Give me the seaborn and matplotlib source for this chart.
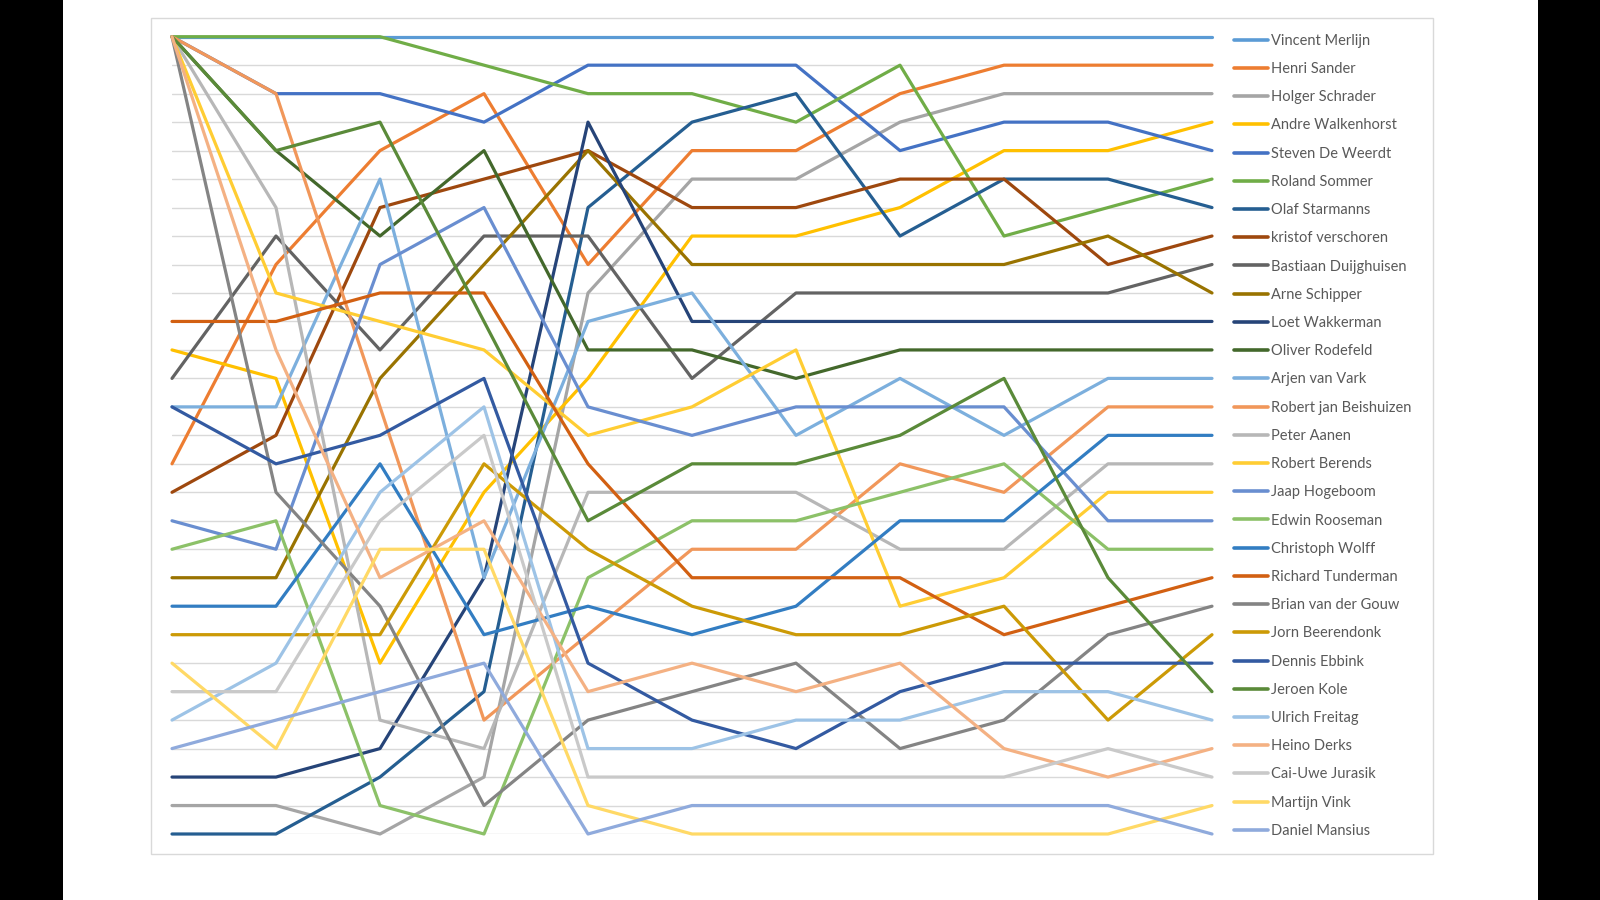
import numpy as np
import pandas as pd
import matplotlib
matplotlib.use('Agg')
import matplotlib.pyplot as plt
import seaborn as sns
from matplotlib.lines import Line2D
from matplotlib.patches import Rectangle

# --- data: rank per round for each player ---
rounds = [1, 2, 3, 4, 5, 6, 7, 8, 9, 10, 11]

players = ['Vincent Merlijn', 'Henri Sander', 'Holger Schrader', 'Andre Walkenhorst',
           'Steven De Weerdt', 'Roland Sommer', 'Olaf Starmanns', 'kristof verschoren',
           'Bastiaan Duijghuisen', 'Arne Schipper', 'Loet Wakkerman', 'Oliver Rodefeld',
           'Arjen van Vark', 'Robert jan Beishuizen', 'Peter Aanen', 'Robert Berends',
           'Jaap Hogeboom', 'Edwin Rooseman', 'Christoph Wolff', 'Richard Tunderman',
           'Brian van der Gouw', 'Jorn Beerendonk', 'Dennis Ebbink', 'Jeroen Kole',
           'Ulrich Freitag', 'Heino Derks', 'Cai-Uwe Jurasik', 'Martijn Vink', 'Daniel Mansius']

vincent_merlijn = [1, 1, 1, 1, 1, 1, 1, 1, 1, 1, 1]
henri_sander = [16, 9, 5, 3, 9, 5, 5, 3, 2, 2, 2]
holger_schrader = [28, 28, 29, 27, 10, 6, 6, 4, 3, 3, 3]
andre_walkenhorst = [12, 13, 23, 17, 13, 8, 8, 7, 5, 5, 4]
steven_de_weerdt = [1, 3, 3, 4, 2, 2, 2, 5, 4, 4, 5]
roland_sommer = [1, 1, 1, 2, 3, 3, 4, 2, 8, 7, 6]
olaf_starmanns = [29, 29, 27, 24, 7, 4, 3, 8, 6, 6, 7]
kristof_verschoren = [17, 15, 7, 6, 5, 7, 7, 6, 6, 9, 8]
bastiaan_duijghuisen = [13, 8, 12, 8, 8, 13, 10, 10, 10, 10, 9]
arne_schipper = [20, 20, 13, 9, 5, 9, 9, 9, 9, 8, 10]
loet_wakkerman = [27, 27, 26, 20, 4, 11, 11, 11, 11, 11, 11]
oliver_rodefeld = [1, 5, 8, 5, 12, 12, 13, 12, 12, 12, 12]
arjen_van_vark = [14, 14, 6, 20, 11, 10, 15, 13, 15, 13, 13]
robert_jan_beishuizen = [1, 3, 14, 25, 22, 19, 19, 16, 17, 14, 14]
peter_aanen = [1, 7, 25, 26, 17, 17, 17, 19, 19, 16, 16]
robert_berends = [1, 10, 11, 12, 15, 14, 12, 21, 20, 17, 17]
jaap_hogeboom = [18, 19, 9, 7, 14, 15, 14, 14, 14, 18, 18]
edwin_rooseman = [19, 18, 28, 29, 20, 18, 18, 17, 16, 19, 19]
christoph_wolff = [21, 21, 16, 22, 21, 22, 21, 18, 18, 15, 15]
richard_tunderman = [11, 11, 10, 10, 16, 20, 20, 20, 22, 21, 20]
brian_van_der_gouw = [1, 17, 21, 28, 25, 24, 23, 26, 25, 22, 21]
jorn_beerendonk = [22, 22, 22, 16, 19, 21, 22, 22, 21, 25, 22]
dennis_ebbink = [14, 16, 15, 13, 23, 25, 26, 24, 23, 23, 23]
jeroen_kole = [1, 5, 4, 11, 18, 16, 16, 15, 13, 20, 24]
ulrich_freitag = [25, 23, 17, 14, 26, 26, 25, 25, 24, 24, 25]
heino_derks = [1, 12, 20, 18, 24, 23, 24, 23, 26, 27, 26]
cai_uwe_jurasik = [24, 24, 18, 15, 27, 27, 27, 27, 27, 26, 27]
martijn_vink = [23, 26, 19, 19, 28, 29, 29, 29, 29, 29, 28]
daniel_mansius = [26, 25, 24, 23, 29, 28, 28, 28, 28, 28, 29]

ranks = [vincent_merlijn, henri_sander, holger_schrader, andre_walkenhorst,
         steven_de_weerdt, roland_sommer, olaf_starmanns, kristof_verschoren,
         bastiaan_duijghuisen, arne_schipper, loet_wakkerman, oliver_rodefeld,
         arjen_van_vark, robert_jan_beishuizen, peter_aanen, robert_berends,
         jaap_hogeboom, edwin_rooseman, christoph_wolff, richard_tunderman,
         brian_van_der_gouw, jorn_beerendonk, dennis_ebbink, jeroen_kole,
         ulrich_freitag, heino_derks, cai_uwe_jurasik, martijn_vink, daniel_mansius]

# Excel-like series palette
colors = ['#5B9BD5', '#ED7D31', '#A5A5A5', '#FFC000', '#4472C4', '#70AD47',
          '#255E91', '#9E480E', '#636363', '#997300', '#264478', '#43682B',
          '#7CAFDD', '#F1975A', '#B7B7B7', '#FFCD33', '#698ED0', '#8CC168',
          '#327DC2', '#D26012', '#848484', '#CC9A06', '#335AA1', '#5A8A39',
          '#9DC3E6', '#F4B183', '#C9C9C9', '#FFD966', '#8FAADC']

rows = []
for name, r in zip(players, ranks):
    for rd, v in zip(rounds, r):
        rows.append({'round': rd, 'rank': v, 'player': name})
df = pd.DataFrame(rows)

# --- plot ---
sns.set_style('white')
plt.rcParams['font.family'] = ['Lato', 'DejaVu Sans']

W, H = 1600, 900
fig = plt.figure(figsize=(16, 9), dpi=100, facecolor='black')
fig.add_artist(Rectangle((63 / W, 0), (1538 - 63) / W, 1, transform=fig.transFigure,
                         facecolor='white', edgecolor='none', zorder=0))
fig.add_artist(Rectangle((151 / W, (H - 854) / H), (1433 - 151) / W, (854 - 17.5) / H,
                         transform=fig.transFigure, fill=False, edgecolor='#D9D9D9',
                         lw=1, zorder=1))

ax = fig.add_axes([172 / W, (H - 834) / H, 1040 / W, (834 - 36.7) / H])
ax.patch.set_alpha(0)

sns.lineplot(data=df, x='round', y='rank', hue='player', hue_order=players,
             palette=colors, linewidth=2.3, legend=False, ax=ax,
             estimator=None, sort=False)
for ln in ax.lines:
    ln.set_clip_on(False)

ax.set_xlim(rounds[0], rounds[-1])
ax.set_ylim(len(players), 1)
ax.set_yticks(np.arange(1, len(players) + 1))
ax.set_xticks([])
ax.yaxis.grid(True, color='#D9D9D9', lw=1)
ax.set_axisbelow(True)
ax.tick_params(left=False, labelleft=False, bottom=False, labelbottom=False)
ax.set_xlabel('')
ax.set_ylabel('')
for s in ax.spines.values():
    s.set_visible(False)

handles = [Line2D([], [], color=c, lw=2.6) for c in colors]
fig.legend(handles, players, loc='upper left', bbox_to_anchor=(1227 / W, 1 - 26.5 / H),
           frameon=False, borderpad=0, fontsize=10.5, labelspacing=0.975,
           handlelength=2.3, handletextpad=0.25, labelcolor='#595959')

fig.savefig('out.png', dpi=100, facecolor='black')
